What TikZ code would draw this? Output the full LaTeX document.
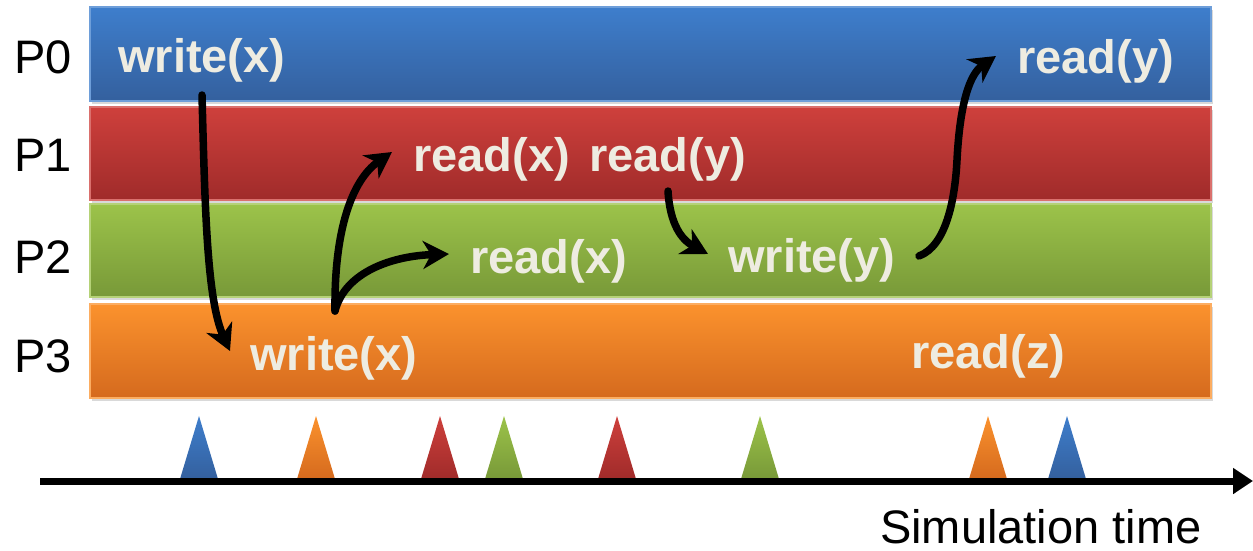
\documentclass[tikz,border=0pt]{standalone}
\usepackage{fontspec}
\setmainfont{Liberation Sans}
\usetikzlibrary{arrows.meta,shadows}

% band colours: A = upper shade, B = lower shade
\definecolor{blueA}{RGB}{62,126,204}
\definecolor{blueB}{RGB}{52,96,158}
\definecolor{redA}{RGB}{206,64,60}
\definecolor{redB}{RGB}{160,43,42}
\definecolor{greenA}{RGB}{156,195,74}
\definecolor{greenB}{RGB}{120,153,56}
\definecolor{orangeA}{RGB}{251,146,45}
\definecolor{orangeB}{RGB}{213,106,30}
\definecolor{optext}{RGB}{238,236,225}

\begin{document}
\begin{tikzpicture}[x=1pt,y=-1pt,
  band/.style={rectangle, inner sep=0pt, outer sep=0pt,
    minimum width=1121pt, line width=1.2pt,
    drop shadow={shadow xshift=1.5pt, shadow yshift=-3pt, opacity=0.3}},
  proc/.style={font=\fontsize{47}{56}\selectfont, text=black, inner sep=0pt},
  op/.style={font=\fontsize{47}{56}\selectfont\bfseries, text=optext,
    inner sep=0pt, anchor=base west},
  flow/.style={line width=7.5pt, line cap=round,
    -{Stealth[length=26pt,width=28pt,inset=8pt]}}
]
\useasboundingbox (0,0) rectangle (1253,550);

% process bands
\node[band, top color=blueA, bottom color=blueB, draw=blueA!75!white,
  minimum height=94pt] (b0) at (650.5,54) {};
\node[band, top color=redA, bottom color=redB, draw=redA!75!white,
  minimum height=93pt] (b1) at (650.5,153.5) {};
\node[band, top color=greenA, bottom color=greenB, draw=greenA!75!white,
  minimum height=93pt] (b2) at (650.5,250.5) {};
\node[band, top color=orangeA, bottom color=orangeB, draw=orangeA!75!white,
  minimum height=94pt] (b3) at (650.5,351) {};

% process names
\node[proc] (p0) at (43,57) {P0};
\node[proc] (p1) at (43,155.5) {P1};
\node[proc] (p2) at (43,257) {P2};
\node[proc] (p3) at (43,356.5) {P3};

% operations
\node[op] (w0x) at (118,72) {write(x)};
\node[op] (r0y) at (1017,73) {read(y)};
\node[op] (r1x) at (413,171) {read(x)};
\node[op] (r1y) at (589,171) {read(y)};
\node[op] (r2x) at (470,273) {read(x)};
\node[op] (w2y) at (728,272) {write(y)};
\node[op] (w3x) at (250,370) {write(x)};
\node[op] (r3z) at (911,368) {read(z)};

% connector ends
\coordinate (w0x-out) at (202,95);
\coordinate (w3x-in) at (230,351);
\coordinate (w3x-out) at (335,311);
\coordinate (r1x-in) at (392,152);
\coordinate (r2x-in) at (449,254);
\coordinate (r1y-out) at (668,191);
\coordinate (w2y-in) at (708,254);
\coordinate (w2y-out) at (919,256);
\coordinate (r0y-in) at (996,56);

% data flow
\draw[flow] (w0x-out) .. controls (205,210) and (207,300) .. (w3x-in);
\draw[flow] (w3x-out) .. controls (334,230) and (352,180) .. (r1x-in);
\draw[flow] (w3x-out) .. controls (345,272) and (392,256) .. (r2x-in);
\draw[flow] (r1y-out) .. controls (670,225) and (682,240) .. (w2y-in);
\draw[flow] (w2y-out) .. controls (946,246) and (955,200) .. (957,160)
  .. controls (960,102) and (970,74) .. (r0y-in);

% events on the time axis
\foreach \x/\c in {199/blue,316/orange,440/red,504/green,617/red,
                   760/green,988/orange,1067/blue}{
  \shade[top color=\c A, bottom color=\c B]
    ({\x-19},479) -- (\x,416) -- ({\x+19},479) -- cycle;
}

% time axis
\coordinate (t-start) at (40,481);
\coordinate (t-end) at (1253,481);
\draw[line width=7pt, -{Triangle[length=20pt,width=25pt]}] (t-start) -- (t-end);
\node[proc, anchor=base west] (simtime) at (880,543) {Simulation time};
\end{tikzpicture}
\end{document}
